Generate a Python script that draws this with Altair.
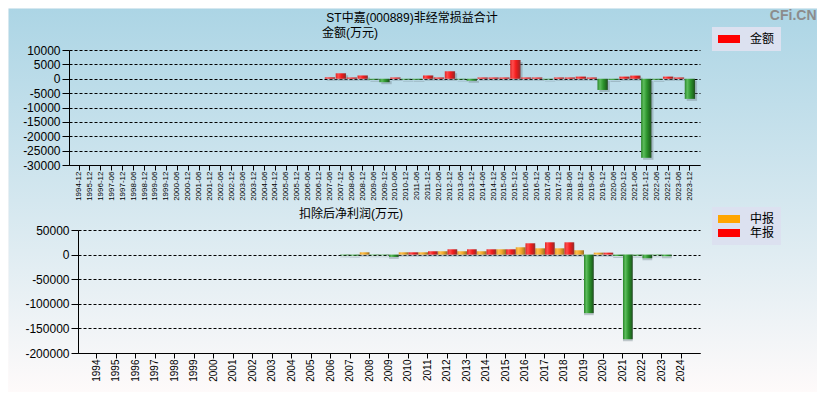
import altair as alt
import pandas as pd

# ---------------- data ----------------
periods = ["1994-12", "1995-12", "1996-12",
           "1997-06", "1997-12", "1998-06", "1998-12", "1999-06", "1999-12",
           "2000-06", "2000-12", "2001-06", "2001-12", "2002-06", "2002-12",
           "2003-06", "2003-12", "2004-06", "2004-12", "2005-06", "2005-12",
           "2006-06", "2006-12", "2007-06", "2007-12", "2008-06", "2008-12",
           "2009-06", "2009-12", "2010-06", "2010-12", "2011-06", "2011-12",
           "2012-06", "2012-12", "2013-06", "2013-12", "2014-06", "2014-12",
           "2015-06", "2015-12", "2016-06", "2016-12", "2017-06", "2017-12",
           "2018-06", "2018-12", "2019-06", "2019-12", "2020-06", "2020-12",
           "2021-06", "2021-12", "2022-06", "2022-12", "2023-06", "2023-12"]

# 非经常损益合计 (万元)
nonrecurring = [None, None, None,
                None, None, None, None, None, None,
                None, None, None, None, None, None,
                None, None, None, None, None, None,
                None, None, 500, 1900, 450, 1150,
                -350, -1200, 450, -300, -350, 1150,
                450, 2600, -250, -700, 450, 450,
                450, 6500, 450, 450, -250, 450,
                450, 750, 450, -3900, -400, 750,
                1100, -27500, -350, 750, 450, -7000]

years = ["1994", "1995", "1996", "1997", "1998", "1999", "2000", "2001",
         "2002", "2003", "2004", "2005", "2006", "2007", "2008", "2009",
         "2010", "2011", "2012", "2013", "2014", "2015", "2016", "2017",
         "2018", "2019", "2020", "2021", "2022", "2023", "2024"]

# 扣除后净利润 (万元)
interim = [None, None, None, None, None, None, None, None,
           None, None, None, None, None, -1500, 4700, -1300,
           4700, 4700, 6800, 6800, 6800, 10800, 14900, 12800,
           12800, 8800, 4000, -2700, -2000, -1300, None]
annual = [None, None, None, None, None, None, None, None,
          None, None, None, None, None, -2000, -1300, -4700,
          4700, 6800, 10800, 10800, 10800, 10800, 23000, 25000,
          25000, -119000, 4000, -172000, -7400, -3400, None]

top_ticks = [10000, 5000, 0, -5000, -10000, -15000, -20000, -25000, -30000]
bot_ticks = [50000, 0, -50000, -100000, -150000, -200000]
kinds = ["中报", "年报"]

df_top = pd.DataFrame({"period": periods, "value": nonrecurring}).dropna()
rows = []
for y, a, b in zip(years, interim, annual):
    if a is not None:
        rows.append({"year": y, "type": "中报", "value": a})
    if b is not None:
        rows.append({"year": y, "type": "年报", "value": b})
df_bot = pd.DataFrame(rows)

# ---------------- styles ----------------
LAT = "Liberation Sans"
CJK = "Liberation Sans, Noto Sans CJK SC"
W, H = 809, 384


def grad(stops):
    return alt.LinearGradient(
        gradient="linear", x1=0, x2=1, y1=0, y2=0,
        stops=[alt.GradientStop(color=c, offset=o) for o, c in stops])


RED = grad([(0, "#e02828"), (0.25, "#ff4c4c"), (0.55, "#f41c1c"), (0.85, "#b52222"), (1, "#8a3838")])
GREEN = grad([(0, "#2a862a"), (0.25, "#5cbc5c"), (0.55, "#2e962e"), (0.85, "#1f6a1f"), (1, "#2a4a2a")])
ORANGE = grad([(0, "#e29a24"), (0.25, "#ffc04c"), (0.55, "#f2a82a"), (0.85, "#b88224"), (1, "#8a6a30")])

axis_common = dict(labelFont=LAT, labelColor="#000000", domainColor="#000000",
                   tickColor="#000000", domainWidth=1, tickWidth=1,
                   titleColor="#000000", titleFontWeight="normal", titleAngle=0,
                   titleAlign="center", titleBaseline="middle")
grid_common = dict(grid=True, gridColor="#000000", gridDash=[3, 2], gridWidth=1, gridOpacity=1)

legend_common = dict(title=None, orient="none", fillColor="#dce1f0", padding=6,
                     symbolType="M-2.75,-1H2.75V1H-2.75Z", symbolSize=64,
                     symbolStrokeWidth=0, symbolOffset=5, labelOffset=15,
                     labelFont=CJK, labelFontSize=12, labelColor="#000000",
                     rowPadding=2)

# ---------------- top panel ----------------
top_x = alt.X("period:O",
              scale=alt.Scale(domain=periods, range=[61, 692], paddingInner=0.05, paddingOuter=0.45),
              axis=alt.Axis(orient="bottom", offset=-227, labelAngle=270, labelFontSize=8,
                            labelPadding=1, tickSize=5, labelOverlap=False, grid=False,
                            title="ST中嘉(000889)非经常损益合计", titleX=403.5, titleY=-148,
                            titleFont=CJK, titleFontSize=12, **axis_common))
top_y = alt.Y("value:Q",
              scale=alt.Scale(domain=[-30000, 10000], range=[157, 42], nice=False),
              axis=alt.Axis(orient="left", offset=-61, values=top_ticks,
                            labelExpr="datum.value + ''", labelFontSize=12, labelPadding=2,
                            tickSize=7, title="金额(万元)", titleX=280.5, titleY=24,
                            titleFont=CJK, titleFontSize=12, **axis_common, **grid_common))

base_top = alt.Chart(df_top).encode(x=top_x, y=top_y)
top_shadow = base_top.mark_bar(fill="#6f7f86", fillOpacity=0.4, xOffset=2, yOffset=2)
top_pos = base_top.mark_bar(fill=RED).transform_filter("datum.value >= 0")
top_neg = base_top.mark_bar(fill=GREEN).transform_filter("datum.value < 0")
top_leg = base_top.mark_bar().encode(
    color=alt.Color("series:N", scale=alt.Scale(domain=["金额"], range=["#ff0000"]),
                    legend=alt.Legend(legendX=704, legendY=19, **legend_common))
).transform_calculate(series="'金额'").transform_filter("false")
top = alt.layer(top_shadow, top_pos, top_neg, top_leg)

# ---------------- bottom panel ----------------
bot_x = alt.X("year:O",
              scale=alt.Scale(domain=years, range=[70, 692], paddingInner=0, paddingOuter=0.45),
              axis=alt.Axis(orient="bottom", offset=-39, labelAngle=270, labelFontSize=10,
                            labelPadding=1, tickSize=5, labelOverlap=False, grid=False,
                            title="CFi.CN", titleX=808, titleY=-345, titleFont=LAT,
                            titleFontSize=14, **{**axis_common, "titleColor": "#8c8c8c",
                                                 "titleFontWeight": "bold",
                                                 "titleAlign": "right",
                                                 "titleBaseline": "top"}))
bot_xo = alt.XOffset("type:N", scale=alt.Scale(domain=kinds, paddingInner=0, paddingOuter=0))
bot_y = alt.Y("value:Q",
              scale=alt.Scale(domain=[-200000, 50000], range=[345, 222], nice=False),
              axis=alt.Axis(orient="left", offset=-70, values=bot_ticks,
                            labelExpr="datum.value + ''", labelFontSize=12, labelPadding=2,
                            tickSize=7, title="扣除后净利润(万元)", titleX=272.5, titleY=205,
                            titleFont=CJK, titleFontSize=12, **axis_common, **grid_common))

base_bot = alt.Chart(df_bot).encode(x=bot_x, xOffset=bot_xo, y=bot_y)
bot_shadow = base_bot.mark_bar(fill="#6f7f86", fillOpacity=0.4, xOffset=2, yOffset=2)
bot_mid = base_bot.mark_bar(fill=ORANGE).transform_filter("datum.value >= 0 && datum.type == '中报'")
bot_ann = base_bot.mark_bar(fill=RED).transform_filter("datum.value >= 0 && datum.type == '年报'")
bot_neg = base_bot.mark_bar(fill=GREEN).transform_filter("datum.value < 0")
bot_leg = base_bot.mark_bar().encode(
    color=alt.Color("type:N", scale=alt.Scale(domain=kinds, range=["#ffa500", "#ff0000"]),
                    legend=alt.Legend(legendX=704, legendY=199, **legend_common))
).transform_filter("false")
bottom = alt.layer(bot_shadow, bot_mid, bot_ann, bot_neg, bot_leg)

bg_expr = ("{gradient: 'linear', x1: 0, y1: 0, x2: 0, y2: 1, stops: ["
           "{offset: 0, color: '#acd5e5'}, {offset: 0.5, color: '#d4e7ef'}, "
           "{offset: 1, color: '#fefafa'}]}")

chart = alt.layer(top, bottom).resolve_scale(
    x="independent", y="independent", color="independent"
).resolve_axis(
    x="independent", y="independent"
).resolve_legend(
    color="independent"
).properties(
    width=W, height=H,
    padding={"left": 0, "right": 0, "top": 0, "bottom": 0},
    autosize=alt.AutoSizeParams(type="none"),
    background="#fefafa",
    view=alt.ViewBackground(fill=alt.ExprRef(expr=bg_expr), stroke="transparent"),
)

chart.save("out.html", embed_options={"renderer": "svg", "actions": False})
